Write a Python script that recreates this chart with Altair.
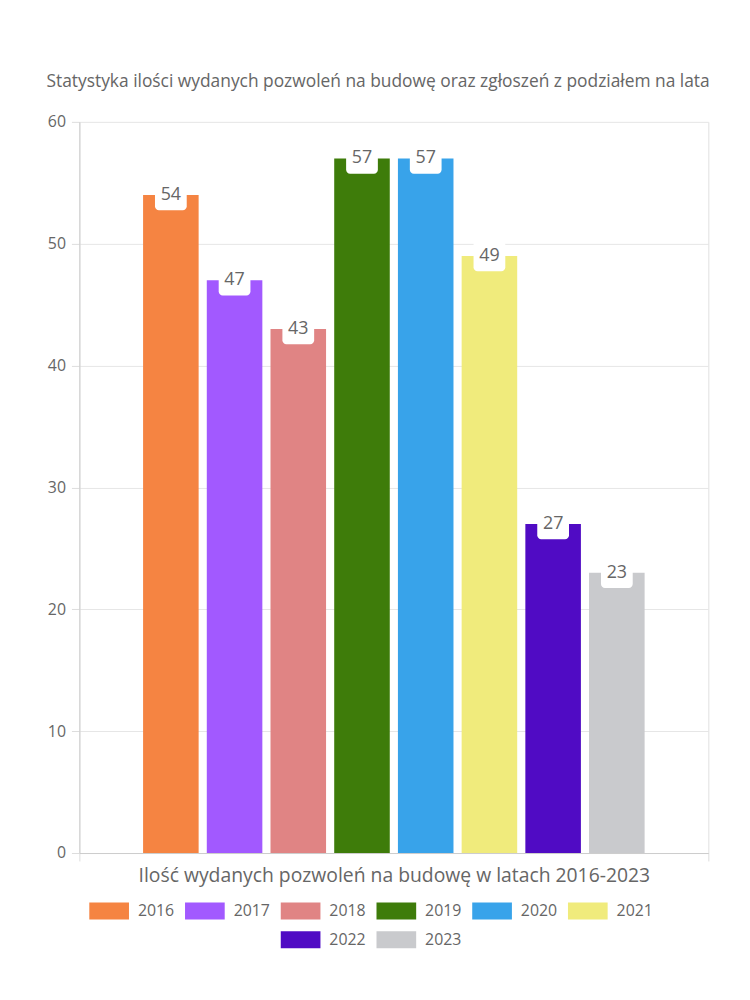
import altair as alt
import pandas as pd

years = ["2016", "2017", "2018", "2019", "2020", "2021", "2022", "2023"]
values = [54, 47, 43, 57, 57, 49, 27, 23]
colors = ["#F58442", "#A259FF", "#E08484", "#3E7C0A", "#38A3EA", "#F0EB7C", "#500BC4", "#C9CACD"]
category = "Ilość wydanych pozwoleń na budowę w latach 2016-2023"
title = "Statystyka ilości wydanych pozwoleń na budowę oraz zgłoszeń z podziałem na lata"
y_ticks = [0, 10, 20, 30, 40, 50, 60]

FONT = "Open Sans"
GREY = "#666666"

df = pd.DataFrame({"year": years, "value": values, "cat": [category] * len(years)})

color_scale = alt.Scale(domain=years, range=colors)

x_enc = alt.X(
    "cat:N",
    title=None,
    scale=alt.Scale(paddingInner=0, paddingOuter=0),
    axis=alt.Axis(
        labelAngle=0,
        labelFont=FONT,
        labelFontSize=19.5,
        labelColor=GREY,
        labelPadding=6,
        labelLimit=0,
        tickBand="extent",
        tickSize=8,
        tickColor="#dddddd",
        domainColor="#cccccc",
        grid=True,
        gridColor="#e0e0e0",
    ),
)
xoff_enc = alt.XOffset("year:N", scale=alt.Scale(paddingInner=0.128, paddingOuter=1))
y_enc = alt.Y(
    "value:Q",
    title=None,
    scale=alt.Scale(domain=[0, 60]),
    axis=alt.Axis(
        values=y_ticks,
        labelFont=FONT,
        labelFontSize=16,
        labelColor=GREY,
        labelPadding=6,
        tickSize=8,
        tickColor="#dddddd",
        domainColor="#cccccc",
        gridColor="#e6e6e6",
        minExtent=30,
        maxExtent=30,
    ),
)

base = alt.Chart(df)

bars = base.mark_bar().encode(
    x=x_enc,
    xOffset=xoff_enc,
    y=y_enc,
    color=alt.Color("year:N", scale=color_scale, legend=None),
)

boxes = base.transform_calculate(
    top="datum.value + 1.3", bot="datum.value - 1.25"
).mark_bar(width=32, color="white", cornerRadius=4).encode(
    x=alt.X("cat:N"),
    xOffset=alt.XOffset("year:N"),
    y=alt.Y("top:Q"),
    y2="bot:Q",
)

labels = base.mark_text(font=FONT, fontSize=18, color=GREY, baseline="middle").encode(
    x=alt.X("cat:N"),
    xOffset=alt.XOffset("year:N"),
    y=alt.Y("value:Q"),
    text="value:Q",
)

main = alt.layer(bars, boxes, labels).properties(width=634, height=737)

legend_base = alt.Chart(df).transform_window(
    idx="row_number()"
).transform_calculate(
    row="floor((datum.idx - 1) / 6)",
    col="((datum.idx - 1) % 6) + (floor((datum.idx - 1) / 6) == 1 ? 2 : 0)",
)
lx = alt.X("col:Q", scale=alt.Scale(domain=[-0.311, 6.259]), axis=None)
ly = alt.Y("row:Q", scale=alt.Scale(domain=[1.5, -0.5]), axis=None)

swatches = legend_base.mark_point(
    shape="M-1,-0.43H1V0.43H-1Z", size=1600, filled=True, opacity=1
).encode(x=lx, y=ly, color=alt.Color("year:N", scale=color_scale, legend=None))
swatch_text = legend_base.mark_text(
    font=FONT, fontSize=16, color=GREY, align="left", baseline="middle", dx=29
).encode(x=lx, y=ly, text="year:N")

legend = alt.layer(swatches, swatch_text).properties(width=634, height=58)

chart = alt.vconcat(main, legend, spacing=11).properties(
    title=alt.TitleParams(
        text=title, font=FONT, fontSize=17.5, fontWeight="normal", color=GREY,
        anchor="middle", offset=24,
    ),
    padding={"left": 46, "top": 69, "right": 40, "bottom": 5},
).configure_view(stroke=None)

chart.save("out.html", embed_options={"renderer": "svg", "actions": False})
